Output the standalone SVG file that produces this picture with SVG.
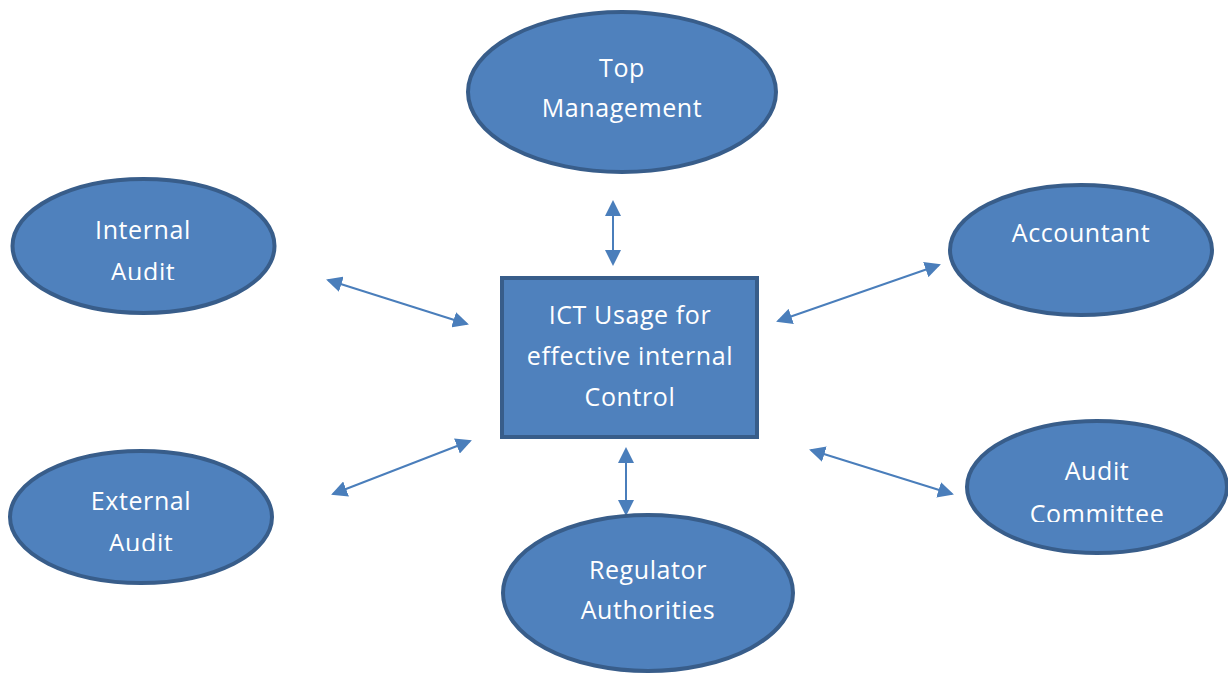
<svg xmlns="http://www.w3.org/2000/svg" width="1228" height="673" viewBox="0 0 1228 673">
  <style>
    .node { fill: #4f81bd; stroke: #385d8a; stroke-width: 4; }
    .label { font-family: "Open Sans", "Noto Sans", "Liberation Sans", sans-serif; font-size: 25px; letter-spacing: 0.6px; fill: #ffffff; text-anchor: middle; }
    .link { stroke: #4a7ebb; stroke-width: 2; fill: none; marker-start: url(#head); marker-end: url(#head); }
  </style>
  <defs>
    <marker id="head" markerUnits="userSpaceOnUse" markerWidth="16" markerHeight="16" viewBox="0 0 16 16" refX="14" refY="8" orient="auto-start-reverse">
      <path d="M0,0 L16,8 L0,16 Z" fill="#4a7ebb"/>
    </marker>
    <clipPath id="clipInternal"><rect x="0" y="0" width="300" height="280"/></clipPath>
    <clipPath id="clipExternal"><rect x="0" y="400" width="300" height="151"/></clipPath>
    <clipPath id="clipCommittee"><rect x="950" y="400" width="278" height="122"/></clipPath>
  </defs>

  <rect x="0" y="0" width="1228" height="673" fill="#ffffff"/>

  <!-- connectors: double-headed arrows between the centre box and each party -->
  <g id="connectors">
    <line class="link" x1="613" y1="202" x2="613" y2="264"/>
    <line class="link" x1="328" y1="280" x2="467" y2="324"/>
    <line class="link" x1="939" y1="265" x2="778" y2="321"/>
    <line class="link" x1="333" y1="494" x2="470" y2="441"/>
    <line class="link" x1="626" y1="449" x2="626" y2="514"/>
    <line class="link" x1="811" y1="450" x2="952" y2="494"/>
  </g>

  <g id="top-management">
    <ellipse class="node" cx="622" cy="92" rx="154" ry="80"/>
    <text class="label" x="622" y="77">Top</text>
    <text class="label" x="622" y="117">Management</text>
  </g>

  <g id="internal-audit">
    <ellipse class="node" cx="143.5" cy="246" rx="131" ry="67"/>
    <text class="label" x="143" y="239">Internal</text>
    <text class="label" x="143" y="281" clip-path="url(#clipInternal)">Audit</text>
  </g>

  <g id="accountant">
    <ellipse class="node" cx="1081" cy="250" rx="131" ry="65"/>
    <text class="label" x="1081" y="242">Accountant</text>
  </g>

  <g id="ict-usage">
    <rect class="node" x="502" y="278" width="255" height="159"/>
    <text class="label" x="630" y="324">ICT Usage for</text>
    <text class="label" x="630" y="365">effective internal</text>
    <text class="label" x="630" y="406">Control</text>
  </g>

  <g id="external-audit">
    <ellipse class="node" cx="141" cy="517" rx="131" ry="66"/>
    <text class="label" x="141" y="510">External</text>
    <text class="label" x="141" y="552" clip-path="url(#clipExternal)">Audit</text>
  </g>

  <g id="audit-committee">
    <ellipse class="node" cx="1097" cy="487" rx="130" ry="66"/>
    <text class="label" x="1097" y="480">Audit</text>
    <text class="label" x="1097" y="523" clip-path="url(#clipCommittee)">Committee</text>
  </g>

  <g id="regulator-authorities">
    <ellipse class="node" cx="648" cy="593" rx="145" ry="78"/>
    <text class="label" x="648" y="579">Regulator</text>
    <text class="label" x="648" y="619">Authorities</text>
  </g>
</svg>
